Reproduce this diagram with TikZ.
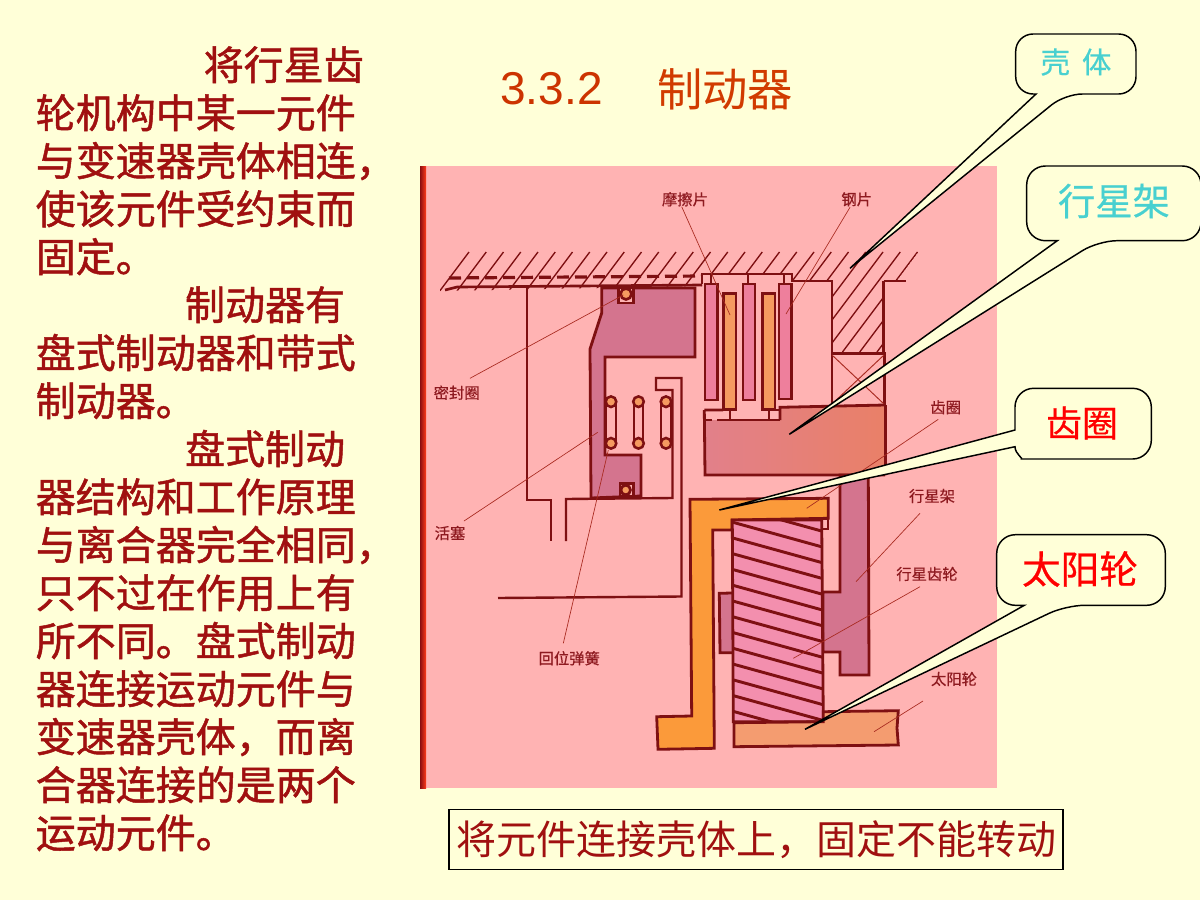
\documentclass[tikz,border=0pt]{standalone}
\usepackage{fontspec}
\setmainfont{Liberation Sans}
\newfontfamily\cjk{Noto Sans CJK SC}
\newfontfamily\cjkb[FakeBold=1.2]{Noto Sans CJK SC}
\newfontfamily\cjkm[FakeBold=0.5]{Noto Sans CJK SC}
\definecolor{bgy}{HTML}{FFFFD8}
\definecolor{panel}{HTML}{FFB3B3}
\definecolor{ink}{HTML}{7E1012}
\definecolor{leader}{HTML}{A82A20}
\definecolor{labelc}{HTML}{8E1A20}
\definecolor{textc}{HTML}{A01010}
\definecolor{titlec}{HTML}{CC3300}
\definecolor{cyanc}{HTML}{48D0D0}
\definecolor{mauve}{HTML}{D4748E}
\definecolor{discp}{HTML}{EE7F9C}
\definecolor{disco}{HTML}{F59A60}
\definecolor{drum}{HTML}{FB9A3A}
\definecolor{gearp}{HTML}{F38FAE}
\definecolor{sunc}{HTML}{F49C70}
\definecolor{ringc}{HTML}{E2808A}
\tikzset{
  outl/.style={draw=ink,line width=2.1pt,line join=miter},
  wall/.style={draw=ink,line width=1.8pt,line join=miter},
  hatchl/.style={draw=ink,line width=1pt},
  leaderl/.style={draw=leader,line width=0.5pt},
  lab/.style={font=\cjkm\fontsize{11.5}{13}\selectfont,text=labelc,inner sep=0pt},
  bubble/.style={draw=black,fill=bgy,line width=1.1pt,line join=miter},
  disc/.style={outl,line width=1.8pt},
  stripe/.style={draw=ink,line width=2.2pt},
  springl/.style={draw=ink,line width=1.5pt},
  springc/.style={draw=ink,line width=1.9pt,fill=disco},
}
\begin{document}
\begin{tikzpicture}[x=0.75pt,y=-0.75pt]
\useasboundingbox (0,0) rectangle (1200,900);
\fill[bgy] (0,0) rectangle (1200,900);
% panel
\fill[panel] (420,166) rectangle (997,788);
\fill[left color=ink!90!red,right color=red!70!orange!85!panel] (420,166) rectangle (426,788);

% upper hatching
\begin{scope}
\clip (440,250) -- (920,250) -- (897,281) -- (883,281) -- (883,353) -- (831.7,353) -- (831.7,281) -- (791.7,281) -- (791.7,274) -- (702,274) -- (702,286) -- (440,291) -- cycle;
\foreach \k in {0,...,28} \draw[hatchl] ({469+17.25*\k},252) -- ({469+17.25*\k-75},352);
\end{scope}
\draw[ink,line width=2.4pt,dash pattern=on 9pt off 4.5pt] (449,278) -- (702,276);
\draw[ink,line width=2pt] (445,290) -- (457,287) -- (702,285);

% housing walls
\draw[wall] (527,287) -- (527,500) -- (551,500) -- (551,541);
\draw[wall] (498,598) -- (681.5,596.5) -- (681.5,378) -- (656,378) -- (656,390) -- (672.5,390) -- (672.5,498) -- (566,499) -- (566,541);
\draw[wall] (702,284) -- (702,274) -- (791.7,274) -- (791.7,281) -- (831.7,281) -- (831.7,404);
\draw[wall] (883.5,281) -- (905.7,281);
\draw[wall] (883.5,281) -- (883.5,353);
\draw[outl] (831.7,353.3) -- (884.7,353.3) -- (884.7,405);
\draw[leaderl,line width=0.7pt] (832,355) -- (884,404) (884,355) -- (832,404);

% piston
\filldraw[outl,fill=mauve] (601.7,288) -- (695,288) -- (695,357) -- (605,357) -- (605,455) -- (641,455) -- (641,496) -- (591,498) -- (590,349) -- (601.7,313) -- cycle;
\filldraw[outl,fill=panel] (618.3,288) rectangle (633.3,303);
\filldraw[draw=ink,line width=2pt,fill=disco] (626,294) circle (5.5);
\filldraw[outl,fill=panel] (620,483.3) rectangle (633.3,496);
\filldraw[draw=ink,line width=2pt,fill=disco] (625.7,490) circle (4.8);

% springs
\draw[springl] (606,402) -- (606,443) (616,402) -- (616,443);
\draw[springl,line width=1.1pt] (634,402) -- (634,443) (643,402) -- (643,443);
\draw[springl] (661,402) -- (661,443) (671,402) -- (671,443);
\foreach \sx in {611,638.5,666} {
  \filldraw[springc] (\sx,401.7) circle (5.3);
  \filldraw[springc] (\sx,443.3) circle (5.3);
}

% friction pack
\filldraw[disc,fill=discp] (705,284) rectangle (717.3,400);
\filldraw[disc,fill=disco] (723.3,293.3) rectangle (735.7,409.3);
\filldraw[disc,fill=discp] (742.7,284) rectangle (754.7,400);
\filldraw[disc,fill=disco] (762.3,293.3) rectangle (774.7,409.3);
\filldraw[disc,fill=discp] (779,284) rectangle (791.3,399);
\draw[wall,line width=1.5pt] (710.7,274) -- (710.7,284) (748.3,274) -- (748.3,284) (783.5,274) -- (783.5,284);
\draw[wall,line width=1.5pt] (730,409) -- (730,419) (769,409) -- (769,419);

% ring gear
\path[fill=ringc,left color=ringc,right color=ringc!75!orange] (705,420) -- (780,420) -- (780,407.3) -- (885,405) -- (885.7,475) -- (705,475) -- cycle;
\draw[outl] (704.3,410) -- (723,410) (704.3,410) -- (705,475) -- (885,475) (885.5,405) -- (885.5,475) (780,420) -- (780,407.3) -- (885,405);
\draw[outl] (704.5,420) -- (712,420) (717,420) -- (780,420) (774.7,410) -- (780,410);

% carrier
\filldraw[outl,fill=mauve] (840,475) -- (868.3,475) -- (869,675) -- (840,675) -- (840,652) -- (823,652) -- (823,592) -- (840,592) -- cycle;
\filldraw[outl,fill=mauve] (732,593) -- (719.3,593.3) -- (720,652.7) -- (732,652.7);

% drum
\filldraw[outl,fill=drum] (690,499.3) -- (828.3,498.3) -- (828.3,518.3) -- (732,520) -- (732,530) -- (712.7,530) -- (714.3,748.3) -- (658,749.3) -- (656.7,716.7) -- (691.7,716) -- cycle;
\draw[outl,line width=1.5pt,fill=panel] (821.7,518.5) rectangle (828.3,529.3);

% planet gear
\filldraw[outl,fill=gearp] (732.3,520) -- (821.7,520) -- (823.3,721.7) -- (733.3,721.7) -- cycle;
\begin{scope}
\clip (732.3,520) -- (821.7,520) -- (823.3,721.7) -- (733.3,721.7) -- cycle;
\foreach \k in {-1,0,...,12}
  \draw[stripe] (733,{522.3+15.75*\k}) -- (823.5,{547.3+15.75*\k});
\end{scope}

% sun gear
\filldraw[outl,fill=sunc] (734,722.7) -- (823.3,721.7) -- (823.3,711.7) -- (898.3,710.7) -- (897,728) -- (898.3,745) -- (734,746.7) -- cycle;

% labels
\node[lab] (lmoca) at (685,199.3) {摩擦片};
\node[lab] (lgang) at (856.7,199.3) {钢片};
\node[lab] (lmif)  at (456.7,392.7) {密封圈};
\node[lab] (lhuo)  at (450,533) {活塞};
\node[lab] (lhui)  at (569.3,658.3) {回位弹簧};
\node[lab] (lchi)  at (945.7,407.3) {齿圈};
\node[lab] (ljia)  at (932,496) {行星架};
\node[lab] (lxing) at (927,574) {行星齿轮};
\node[lab] (ltai)  at (954,679) {太阳轮};

% leaders
\coordinate (e1) at (730,315);
\coordinate (e2) at (786,314);
\coordinate (e3) at (623.3,295);
\coordinate (e4) at (597.7,432.3);
\coordinate (e5) at (608.3,450);
\coordinate (e6) at (806.7,508.3);
\coordinate (e7) at (856,581.7);
\coordinate (e8) at (793.3,658.3);
\coordinate (e9) at (874,731.7);
\draw[leaderl] (681.7,206.7) -- (e1);
\draw[leaderl] (850,207.3) -- (e2);
\draw[leaderl] (470,378.3) -- (e3);
\draw[leaderl] (464,521) -- (e4);
\draw[leaderl] (563.3,643.3) -- (e5);
\draw[leaderl] (938.3,419.3) -- (e6);
\draw[leaderl] (920,513.3) -- (e7);
\draw[leaderl] (920,586.7) -- (e8);
\draw[leaderl] (923,701) -- (e9);

% callouts
\draw[bubble,rounded corners=13pt] (1036,94) -- (1015.7,94) -- (1015.7,34) -- (1136,34) -- (1136,94) -- (1065,94) [sharp corners] -- (850,268.3) -- cycle;
\node[inner sep=0pt,text=cyanc,font=\cjkm\fontsize{22}{24}\selectfont] (tke) at (1076,62) {壳\hspace{9pt}体};

\draw[bubble,rounded corners=14pt] (1057.3,240.7) -- (1026.7,240.7) -- (1026.7,166) -- (1201,166) -- (1201,240.7) -- (1098.3,240.7) [sharp corners] -- (789.3,434.3) -- cycle;
\node[inner sep=0pt,text=cyanc,font=\cjkm\fontsize{28}{32}\selectfont] (tjia) at (1114,201) {行星架};

\draw[bubble,rounded corners=14pt] (1015,430) -- (1015,388.3) -- (1151.3,388.3) -- (1151.3,459) -- (1040,459) [sharp corners] .. controls (1024,459) and (1015,454) .. (1015,446.7) -- (719.3,510) -- cycle;
\node[inner sep=0pt,text=red,font=\cjkm\fontsize{27}{32}\selectfont] (tchi) at (1082,423) {齿圈};

\draw[bubble,rounded corners=14pt] (1024.3,605.3) -- (996.7,605.3) -- (996.7,534.7) -- (1165.3,534.7) -- (1165.3,605.3) -- (1066,605.3) [sharp corners] -- (805,729.3) -- cycle;
\node[inner sep=0pt,text=red,font=\cjkm\fontsize{29}{33}\selectfont] (ttai) at (1080,569) {太阳轮};

% title
\node[inner sep=0pt,text=titlec,font=\fontsize{34.5}{40}\selectfont] (t1) at (551.5,89) {3.3.2};
\node[inner sep=0pt,text=titlec!90!orange,font=\cjk\fontsize{34}{40}\selectfont] (t2) at (725,89) {制动器};

% bottom box
\node[draw=black,line width=1.3pt,minimum width=460.5pt,minimum height=45pt,inner sep=0pt,text=textc,font=\cjk\fontsize{30}{36}\selectfont] (bx) at (756,839.5) {将元件连接壳体上，固定不能转动};

% left text
\node[anchor=north west,inner sep=0pt,align=left,text=textc,font=\cjkb\fontsize{30}{36}\selectfont] (body) at (35.5,46) {%
\hspace*{126pt}将行星齿\\
轮机构中某一元件\\
与变速器壳体相连，\\
使该元件受约束而\\
固定。\\
\hspace*{112pt}制动器有\\
盘式制动器和带式\\
制动器。\\
\hspace*{112pt}盘式制动\\
器结构和工作原理\\
与离合器完全相同，\\
只不过在作用上有\\
所不同。盘式制动\\
器连接运动元件与\\
变速器壳体，而离\\
合器连接的是两个\\
运动元件。};
\end{tikzpicture}
\end{document}
